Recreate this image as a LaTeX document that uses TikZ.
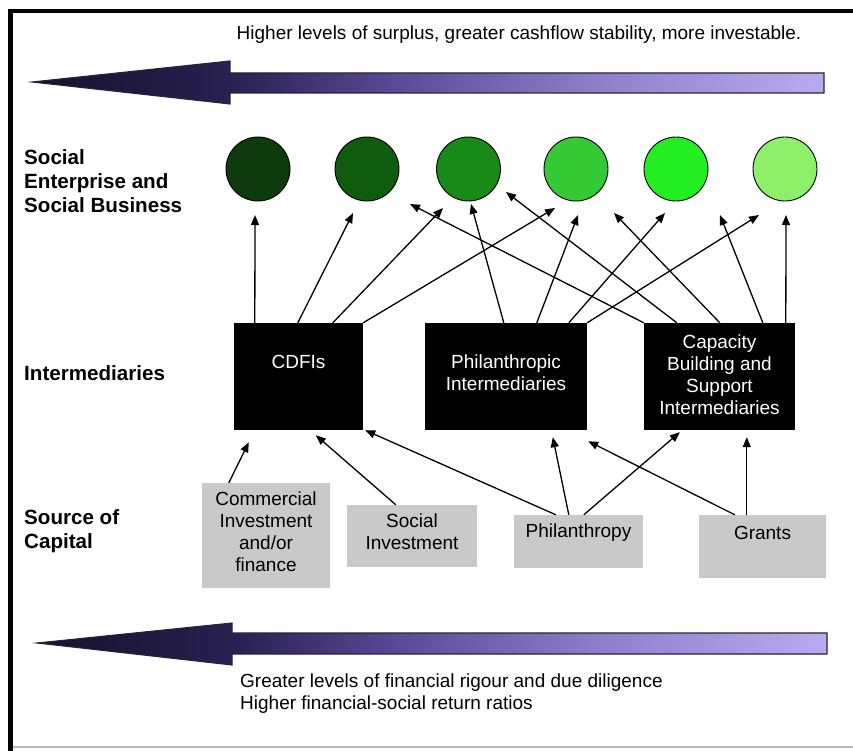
\documentclass[tikz,border=0pt]{standalone}
\usepackage{fontspec}
\setmainfont{Liberation Sans}
\usetikzlibrary{arrows.meta,calc}
\definecolor{ca0}{HTML}{16122E}
\definecolor{ca1}{HTML}{282050}
\definecolor{ca2}{HTML}{5A4A98}
\definecolor{ca3}{HTML}{9080CC}
\definecolor{ca4}{HTML}{BAAAF0}
\definecolor{gA}{HTML}{0D3B0D}
\definecolor{gB}{HTML}{0E5C0E}
\definecolor{gC}{HTML}{178A17}
\definecolor{gD}{HTML}{36C936}
\definecolor{gE}{HTML}{22EE22}
\definecolor{gF}{HTML}{8EF068}
\definecolor{boxgrey}{HTML}{C9C9C9}
\definecolor{arrline}{HTML}{26243A}
\pgfdeclarehorizontalshading{bigarrow}{100bp}{color(0bp)=(ca0); color(25bp)=(ca0); color(37.5bp)=(ca1); color(48bp)=(ca2); color(61bp)=(ca3); color(75bp)=(ca4); color(100bp)=(ca4)}
\tikzset{
  lab/.style={font=\fontsize{20.6}{24}\selectfont\bfseries, align=left, anchor=west, inner sep=0pt},
  txt/.style={font=\fontsize{19}{22}\selectfont, align=center, inner sep=0pt},
  ibox/.style={fill=black, draw=none, inner sep=0pt, minimum height=107pt},
  gbox/.style={fill=boxgrey, draw=none, inner sep=0pt},
  con/.style={line width=1.3pt, draw=black, -{Triangle[length=10pt,width=8pt]}},
  blob/.style={circle, draw=black, line width=0.9pt, minimum size=64pt, inner sep=0pt},
  bigarr/.style={shading=bigarrow, draw=arrline, line width=1.1pt}
}
\begin{document}
\begin{tikzpicture}[x=1pt,y=-1pt]
\useasboundingbox (0,0) rectangle (853,751);
\fill[white] (0,0) rectangle (853,751);
% frame
\draw[black, line width=4pt] (8,11) -- (853,11);
\draw[black, line width=5pt] (10.5,9) -- (10.5,751);
\draw[gray!55, line width=1.5pt] (13,747) -- (853,747);

% top arrow and text
\shade[bigarr] (32,82) -- (230,61) -- (230,73) -- (824,73) -- (824,93) -- (230,93) -- (230,104) -- cycle;
\node[txt] (toptext) at (519,35) {Higher levels of surplus, greater cashflow stability, more investable.};

% bottom arrow and text
\shade[bigarr] (37,643) -- (232,623) -- (232,633) -- (827,633) -- (827,654) -- (232,654) -- (232,665) -- cycle;
\node[txt, align=left, anchor=west] (bottext) at (240,694) {Greater levels of financial rigour and due diligence\\Higher financial-social return ratios};

% row labels
\node[lab] (labse) at (24,181) {Social\\Enterprise and\\Social Business};
\node[lab] (labint) at (24,373) {Intermediaries};
\node[lab] (labsrc) at (24,531) {Source of\\Capital};

% social enterprises
\node[blob, fill=gA] (c1) at (258,169) {};
\node[blob, fill=gB] (c2) at (367,169) {};
\node[blob, fill=gC] (c3) at (468.5,169) {};
\node[blob, fill=gD] (c4) at (576,169) {};
\node[blob, fill=gE] (c5) at (676,169) {};
\node[blob, fill=gF] (c6) at (785,169) {};

% intermediaries
\node[ibox, minimum width=129pt] (cdfi) at (298.5,376.5) {};
\node[ibox, minimum width=162pt] (pint) at (506,376.5) {};
\node[ibox, minimum width=151pt] (cap) at (719.5,376.5) {};
\node[txt, text=white] (cdfit) at (298.5,362) {CDFIs};
\node[txt, text=white] (pintt) at (506,373) {Philanthropic\\Intermediaries};
\node[txt, text=white] (capt) at (719.5,374.5) {Capacity\\Building and\\Support\\Intermediaries};

% sources
\node[gbox, minimum width=128pt, minimum height=105pt] (comm) at (266,535.5) {};
\node[gbox, minimum width=130pt, minimum height=62pt] (soc) at (412,536) {};
\node[gbox, minimum width=129pt, minimum height=53pt] (phil) at (578.5,541.5) {};
\node[gbox, minimum width=127pt, minimum height=63pt] (grants) at (762.5,546.5) {};
\node[txt] (commt) at (266,532) {Commercial\\Investment\\and/or\\finance};
\node[txt] (soct) at (412,531.5) {Social\\Investment};
\node[txt] (philt) at (578.5,533) {Philanthropy};
\node[txt] (grantst) at (762.5,533) {Grants};

% intermediaries -> social enterprises
\draw[con] ($(cdfi.north west)+(21,0)$) -- ($(c1)+(-3,46)$);
\draw[con] ($(cdfi.north west)+(64,0)$) -- ($(c2)+(-14,44)$);
\draw[con] ($(cdfi.north west)+(99,0)$) -- ($(c3)+(-25.5,39)$);
\draw[con] (cdfi.north east) -- ($(c4)+(-21,39)$);
\draw[con] ($(pint.north west)+(79,0)$) -- ($(c3)+(2.5,35)$);
\draw[con] ($(pint.north west)+(112,0)$) -- ($(c4)+(2,46)$);
\draw[con] ($(pint.north west)+(144,0)$) -- ($(c5)+(-11,44)$);
\draw[con] (pint.north east) -- ($(c6)+(-26,46)$);
\draw[con] (cap.north west) -- ($(c3)+(-58.5,35)$);
\draw[con] ($(cap.north west)+(33,0)$) -- ($(c3)+(37.5,23)$);
\draw[con] ($(cap.north west)+(76,0)$) -- ($(c5)+(-62,44)$);
\draw[con] ($(cap.north west)+(119,0)$) -- ($(c6)+(-65,46)$);
\draw[con] ($(cap.north west)+(142,0)$) -- ($(c6)+(1,46)$);

% sources -> intermediaries
\draw[con] ($(comm.north west)+(27,0)$) -- ($(cdfi.south west)+(15,12)$);
\draw[con] ($(soc.north west)+(49,0)$) -- ($(cdfi.south west)+(82,5)$);
\draw[con] ($(phil.north west)+(42,0)$) -- ($(cdfi.south east)+(2,0)$);
\draw[con] ($(phil.north west)+(55,0)$) -- ($(pint.south west)+(128,7)$);
\draw[con] ($(phil.north west)+(70,0)$) -- ($(cap.south west)+(36,2)$);
\draw[con] ($(grants.north west)+(36,0)$) -- ($(pint.south east)+(1,11)$);
\draw[con] ($(grants.north west)+(48,0)$) -- ($(cap.south west)+(103,7)$);
\end{tikzpicture}
\end{document}
